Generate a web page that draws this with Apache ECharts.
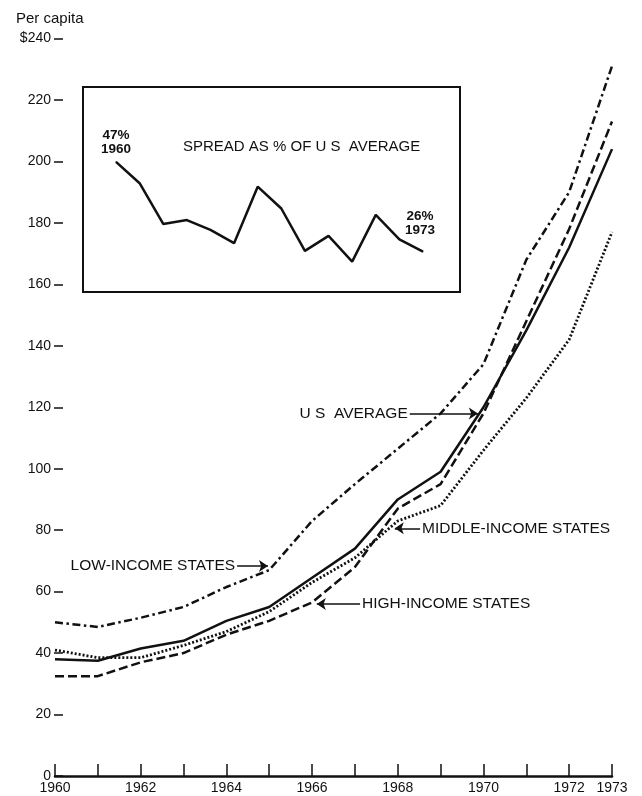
<!DOCTYPE html>
<html>
<head>
<meta charset="utf-8">
<script src="https://cdn.jsdelivr.net/npm/echarts@6/dist/echarts.min.js"></script>
<style>
  html, body { margin: 0; padding: 0; background: #fff; }
  #main { width: 642px; height: 796px; }
</style>
</head>
<body>
<div id="main"></div>
<script>
// years on the x axis
const years = [1960, 1961, 1962, 1963, 1964, 1965, 1966, 1967, 1968, 1969, 1970, 1971, 1972, 1973];

// per capita, dollars
const lowIncome    = [50, 48.5, 51.5, 55, 61.5, 67, 83, 95, 106.5, 118, 134, 168, 190, 231];
const usAverage    = [38, 37.5, 41.5, 44, 50.5, 55, 64.5, 74, 90, 99, 120, 145, 172, 204];
const middleIncome = [41, 38.5, 38.5, 42.5, 47, 53.5, 63, 71, 83, 88, 106, 123, 142, 177];
const highIncome   = [32.5, 32.5, 37, 40, 46, 50.5, 56.5, 68, 87, 95, 118, 148, 178, 213];

// inset: spread as % of U S average
const spreadPct = [47, 42, 32.5, 33.4, 31.1, 28, 41.2, 36.1, 26.2, 29.7, 23.7, 34.6, 28.9, 26];

const ink = '#111';
const font = '"Liberation Sans", Arial, Helvetica, sans-serif';

function pairs(vals) {
  return years.map((y, i) => [y, vals[i]]);
}

// arrow pointing from the label to the line
function arrow(text, from, to) {
  return {
    silent: true,
    symbol: ['none', 'arrow'],
    symbolSize: 9,
    lineStyle: { color: ink, width: 1.5, type: 'solid' },
    label: { show: true, position: 'start', distance: 2, color: ink, fontSize: 15.5, fontFamily: font, formatter: text },
    emphasis: { disabled: true },
    data: [[{ coord: from }, { coord: to }]]
  };
}

function incomeSeries(name, vals, dash, width, mark) {
  return {
    name: name,
    type: 'line',
    xAxisIndex: 0,
    yAxisIndex: 0,
    data: pairs(vals),
    symbol: 'none',
    lineStyle: { color: ink, width: width, type: dash, cap: 'butt' },
    markLine: mark
  };
}

const chart = echarts.init(document.getElementById('main'));

const option = {
  animation: false,
  textStyle: { fontFamily: font, color: ink },
  title: [
    { text: 'Per capita', left: 16, top: 11, padding: 0, textStyle: { fontSize: 15, fontWeight: 'normal', color: ink, fontFamily: font } },
    { text: 'SPREAD AS % OF U S  AVERAGE', left: 183, top: 139, padding: 0, textStyle: { fontSize: 15, fontWeight: 'normal', color: ink, fontFamily: font } }
  ],
  graphic: [
    { type: 'rect', shape: { x: 83, y: 87, width: 377, height: 205 }, style: { fill: null, stroke: ink, lineWidth: 2 }, z: 1 }
  ],
  grid: [
    { left: 55, right: 30, top: 38.5, bottom: 20 },
    { left: 116, right: 219, top: 149, bottom: 518.6 }
  ],
  xAxis: [
    {
      type: 'value', gridIndex: 0, min: 1960, max: 1973, interval: 1,
      axisLine: { show: true, lineStyle: { color: ink, width: 2.5 } },
      axisTick: { show: true, inside: true, length: 12, lineStyle: { color: ink, width: 1.5 } },
      splitLine: { show: false },
      axisLabel: {
        color: ink, fontSize: 14, fontFamily: font, margin: 5, showMinLabel: true, showMaxLabel: true,
        formatter: v => (v % 2 === 0 || v === 1973) ? String(v) : ''
      }
    },
    { type: 'value', gridIndex: 1, min: 1960, max: 1973, show: false }
  ],
  yAxis: [
    {
      type: 'value', gridIndex: 0, min: 0, max: 240, interval: 20, offset: -8,
      axisLine: { show: false },
      axisTick: { show: true, length: 9, lineStyle: { color: ink, width: 1.5 } },
      splitLine: { show: false },
      axisLabel: {
        color: ink, fontSize: 14, fontFamily: font, margin: 12,
        formatter: v => v === 240 ? '$240' : String(v)
      }
    },
    { type: 'value', gridIndex: 1, min: 20, max: 50, show: false }
  ],
  series: [
    incomeSeries('LOW-INCOME STATES', lowIncome, [8, 3.5, 2.5, 3.5], 2.5,
      arrow('LOW-INCOME STATES', [1964.25, 68.3], [1964.97, 68.3])),
    incomeSeries('U S AVERAGE', usAverage, 'solid', 2.5,
      arrow('U S  AVERAGE', [1968.28, 118], [1969.87, 118])),
    incomeSeries('MIDDLE-INCOME STATES', middleIncome, [2, 2], 2.8,
      arrow('MIDDLE-INCOME STATES', [1968.52, 80.6], [1967.93, 80.6])),
    incomeSeries('HIGH-INCOME STATES', highIncome, [9, 4], 2.5,
      arrow('HIGH-INCOME STATES', [1967.12, 56], [1966.11, 56])),
    {
      name: 'Spread',
      type: 'line',
      xAxisIndex: 1,
      yAxisIndex: 1,
      symbol: 'circle',
      symbolSize: 1,
      showSymbol: true,
      itemStyle: { color: ink },
      lineStyle: { color: ink, width: 2.5 },
      data: pairs(spreadPct).map((p, i) => {
        const last = i === spreadPct.length - 1;
        if (i !== 0 && !last) return p;
        return {
          value: p,
          label: {
            show: true, position: 'top', distance: last ? 14 : 5, offset: last ? [-3, 0] : [0, 0],
            color: ink, fontSize: 13.5, fontWeight: 'bold', fontFamily: font, lineHeight: 14,
            formatter: Math.round(p[1]) + '%\n' + p[0]
          }
        };
      })
    }
  ]
};

chart.setOption(option);
</script>
</body>
</html>
